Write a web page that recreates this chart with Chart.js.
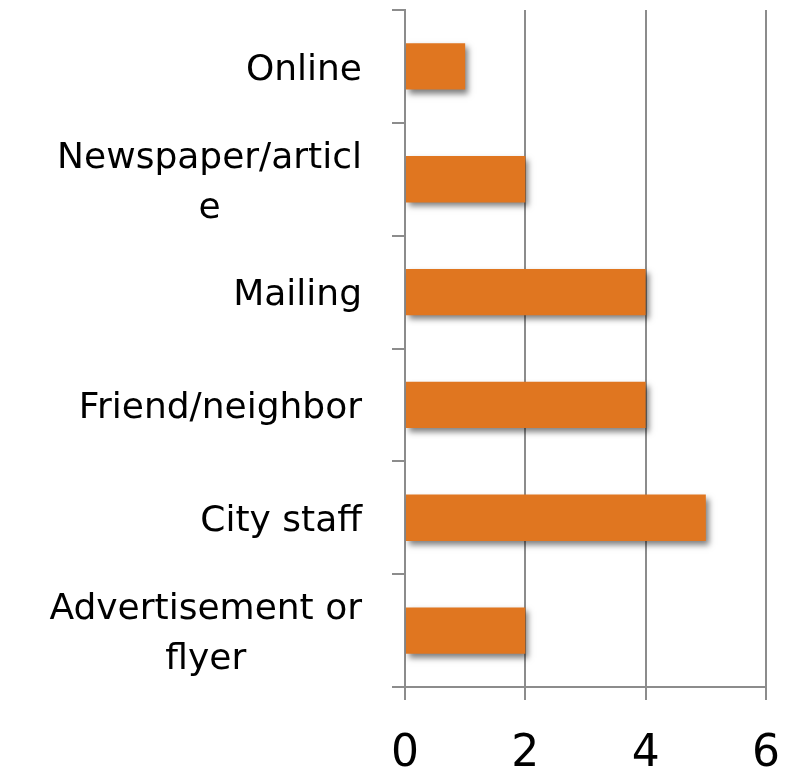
<!DOCTYPE html>
<html>
<head>
<meta charset="utf-8">
<script src="https://cdn.jsdelivr.net/npm/chart.js@4/dist/chart.umd.min.js"></script>
<style>
  html, body { margin: 0; padding: 0; background: #fff; }
  #wrap { width: 792px; height: 775px; position: relative; }
</style>
</head>
<body>
<div id="wrap"><canvas id="barChart"></canvas></div>
<script>
const categories = [
    'Online',
    ['Newspaper/articl', 'e'],
    'Mailing',
    'Friend/neighbor',
    'City staff',
    ['Advertisement or', 'flyer']
];
const counts = [1, 2, 4, 4, 5, 2];
const xTicks = [0, 2, 4, 6];

const gridGrey = '#8c8c8c';
const labelFont = '36px "DejaVu Sans"';
const labelLineHeight = 50;

// soft drop shadow under the bars
const barShadow = {
    id: 'barShadow',
    beforeDatasetsDraw(chart) {
        const c = chart.ctx;
        c.save();
        c.shadowColor = 'rgba(0,0,0,0.5)';
        c.shadowBlur = 6;
        c.shadowOffsetX = 3;
        c.shadowOffsetY = 4;
    },
    afterDatasetsDraw(chart) {
        chart.ctx.restore();
    }
};

// category labels: block right-aligned, wrapped lines centred in the block
const yLabels = {
    id: 'yLabels',
    afterDraw(chart) {
        const c = chart.ctx;
        const y = chart.scales.y;
        const right = y.right - 13 - 30;
        c.save();
        c.font = labelFont;
        c.fillStyle = '#000';
        c.textAlign = 'center';
        c.textBaseline = 'middle';
        categories.forEach((lab, i) => {
            const lines = Array.isArray(lab) ? lab : [lab];
            const w = Math.max(...lines.map(l => c.measureText(l).width));
            const cx = right - w / 2;
            const cy = y.getPixelForTick(i) + 4;
            const top = cy - (lines.length - 1) * labelLineHeight / 2;
            lines.forEach((l, k) => c.fillText(l, cx, top + k * labelLineHeight));
        });
        c.restore();
    }
};

const ctx = document.getElementById('barChart').getContext('2d');
new Chart(ctx, {
    type: 'bar',
    data: {
        labels: categories,
        datasets: [{
            data: counts,
            backgroundColor: '#E07620',
            borderWidth: 0,
            categoryPercentage: 1,
            barPercentage: 0.41
        }]
    },
    options: {
        indexAxis: 'y',
        responsive: true,
        maintainAspectRatio: false,
        animation: false,
        layout: { padding: { top: 10, right: 26, left: 0, bottom: 0 } },
        plugins: {
            legend: { display: false },
            tooltip: { enabled: false }
        },
        scales: {
            x: {
                min: 0,
                max: 6,
                afterBuildTicks: (scale) => {
                    scale.ticks = xTicks.map(v => ({ value: v }));
                },
                afterFit: (scale) => {
                    scale.height = 88;
                    scale.paddingLeft = 0;
                    scale.paddingRight = 0;
                },
                grid: {
                    color: gridGrey,
                    lineWidth: 2,
                    tickLength: 13,
                    drawOnChartArea: true
                },
                border: { color: gridGrey, width: 2 },
                ticks: {
                    color: '#000',
                    padding: 28,
                    font: { family: 'DejaVu Sans', size: 44 }
                }
            },
            y: {
                afterFit: (scale) => {
                    scale.width = 405;
                    scale.paddingTop = 0;
                    scale.paddingBottom = 0;
                },
                grid: {
                    color: gridGrey,
                    lineWidth: 2,
                    tickLength: 13,
                    drawOnChartArea: false,
                    offset: true
                },
                border: { color: gridGrey, width: 2 },
                ticks: { display: false, autoSkip: false }
            }
        }
    },
    plugins: [barShadow, yLabels]
});
</script>
</body>
</html>
